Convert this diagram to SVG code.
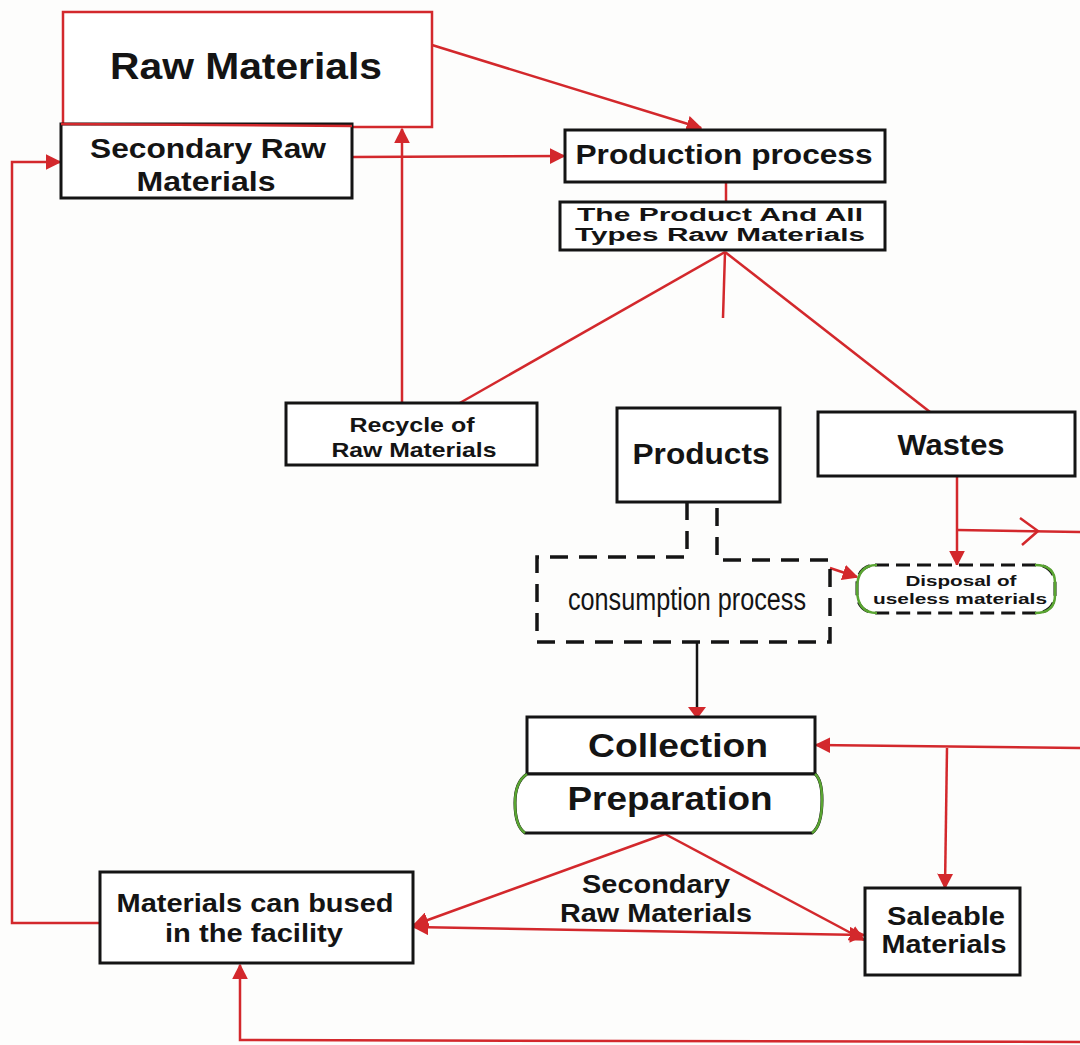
<svg xmlns="http://www.w3.org/2000/svg" width="1080" height="1045" viewBox="0 0 1080 1045">
<style>
.bg{fill:#fdfdfc}
.box{fill:#ffffff;stroke:#141414;stroke-width:3}
.rbox{fill:#ffffff;stroke:#d3282c;stroke-width:2.5}
.dash{fill:none;stroke:#141414;stroke-width:3.5;stroke-dasharray:18 11}
.t{font-family:"Liberation Sans",Arial,sans-serif;font-weight:bold;fill:#141414;text-anchor:middle}
.n{font-family:"Liberation Sans Narrow","Liberation Sans",Arial,sans-serif;font-weight:normal;fill:#141414;text-anchor:middle}
.c{fill:none;stroke:#d3282c;stroke-width:2.5}
.k{fill:none;stroke:#141414;stroke-width:2.5}
.g{fill:none;stroke:#5aa532;stroke-width:2.5}
</style>
<defs>
<marker id="ah" viewBox="0 0 10 10" refX="9" refY="5" markerWidth="16" markerHeight="16" markerUnits="userSpaceOnUse" orient="auto">
<path d="M0,0 L10,5 L0,10 Z" fill="#d3282c"/>
</marker>
</defs>
<rect class="bg" x="0" y="0" width="1080" height="1045"/>

<g id="connectors">
<line class="c" x1="432" y1="45" x2="701" y2="128" marker-end="url(#ah)"/>
<line class="c" x1="352" y1="157" x2="564" y2="156" marker-end="url(#ah)"/>
<line class="c" x1="726" y1="182" x2="726" y2="202"/>
<line class="c" x1="402" y1="402" x2="402" y2="129" marker-end="url(#ah)"/>
<line class="c" x1="725" y1="252" x2="458" y2="404" stroke-width="3"/>
<line class="c" x1="725" y1="252" x2="723" y2="318" stroke-width="3"/>
<line class="c" x1="725" y1="252" x2="930" y2="412" stroke-width="3"/>
<line class="c" x1="957" y1="476" x2="957" y2="565" marker-end="url(#ah)"/>
<line class="c" x1="957" y1="530" x2="1080" y2="532"/>
<polyline fill="none" stroke="#d3282c" stroke-width="2.5" points="1020,518 1038,531 1022,545"/>
<line class="c" x1="830" y1="568" x2="857" y2="577" marker-end="url(#ah)"/>
<line class="k" x1="697" y1="642" x2="697" y2="708"/>
<path d="M688,707 L706,707 L697,719 Z" fill="#d3282c"/>
<line class="c" x1="1080" y1="748" x2="816" y2="745" marker-end="url(#ah)"/>
<line class="c" x1="947" y1="748" x2="945" y2="888" marker-end="url(#ah)"/>
<line class="c" x1="665" y1="834" x2="414" y2="925" marker-end="url(#ah)"/>
<line class="c" x1="665" y1="834" x2="864" y2="940" marker-end="url(#ah)"/>
<line class="c" x1="640" y1="931" x2="414" y2="927" marker-end="url(#ah)"/>
<line class="c" x1="640" y1="931" x2="864" y2="935" marker-end="url(#ah)"/>
<polyline class="c" points="100,923 12,923 12,162 60,162" marker-end="url(#ah)"/>
<polyline class="c" points="1080,1042 240,1040 240,965" marker-end="url(#ah)"/>
</g>

<g id="raw-materials">
<rect class="rbox" x="63" y="12" width="369" height="115"/>
<text class="t" x="246" y="79" font-size="37" textLength="272" lengthAdjust="spacingAndGlyphs">Raw Materials</text>
</g>

<g id="secondary-raw-materials">
<rect class="box" x="61" y="124" width="291" height="74"/>
<line class="rbox" x1="61" y1="124" x2="352" y2="126"/>
<text class="t" x="208" y="158" font-size="28" textLength="236" lengthAdjust="spacingAndGlyphs">Secondary Raw</text>
<text class="t" x="206" y="191" font-size="28" textLength="139" lengthAdjust="spacingAndGlyphs">Materials</text>
</g>

<g id="production-process">
<rect class="box" x="565" y="130" width="320" height="52"/>
<text class="t" x="724" y="164" font-size="28" textLength="297" lengthAdjust="spacingAndGlyphs">Production process</text>
</g>

<g id="product-types">
<rect class="box" x="560" y="202" width="325" height="48"/>
<text class="t" x="720" y="221" font-size="18" textLength="286" lengthAdjust="spacingAndGlyphs">The Product And All</text>
<text class="t" x="720" y="241" font-size="18" textLength="290" lengthAdjust="spacingAndGlyphs">Types Raw Materials</text>
</g>

<g id="recycle">
<rect class="box" x="286" y="403" width="251" height="62"/>
<text class="t" x="412" y="432" font-size="21" textLength="125" lengthAdjust="spacingAndGlyphs">Recycle of</text>
<text class="t" x="414" y="457" font-size="21" textLength="165" lengthAdjust="spacingAndGlyphs">Raw Materials</text>
</g>

<g id="products">
<rect class="box" x="617" y="408" width="163" height="94"/>
<text class="t" x="701" y="464" font-size="30" textLength="137" lengthAdjust="spacingAndGlyphs">Products</text>
</g>

<g id="wastes">
<rect class="box" x="818" y="412" width="257" height="64"/>
<text class="t" x="951" y="455" font-size="30" textLength="107" lengthAdjust="spacingAndGlyphs">Wastes</text>
</g>

<g id="consumption">
<path class="dash" d="M687,502 L687,557 L537,557 L537,642 L830,642 L830,560 L717,560 L717,502"/>
<text class="n" x="687" y="610" font-size="31" textLength="238" lengthAdjust="spacingAndGlyphs">consumption process</text>
</g>

<g id="disposal">
<rect x="857" y="565" width="198" height="48" rx="18" fill="#ffffff" stroke="#141414" stroke-width="3" stroke-dasharray="14 7"/>
<path class="g" d="M1035,565 Q1055,565 1055,583 L1055,595 Q1055,613 1035,613"/>
<path class="g" d="M877,565 Q857,565 857,589 Q857,613 877,613"/>
<text class="t" x="961" y="586" font-size="15" textLength="111" lengthAdjust="spacingAndGlyphs">Disposal of</text>
<text class="t" x="960" y="604" font-size="15" textLength="174" lengthAdjust="spacingAndGlyphs">useless materials</text>
</g>

<g id="collection">
<rect class="box" x="527" y="717" width="288" height="57"/>
<text class="t" x="678" y="757" font-size="33" textLength="180" lengthAdjust="spacingAndGlyphs">Collection</text>
</g>

<g id="preparation">
<path d="M527,774 L815,774 Q822,780 822,800 Q822,826 812,833 L525,833 Q515,826 515,803 Q515,782 527,774 Z" fill="#ffffff" stroke="#141414" stroke-width="3"/>
<path class="g" d="M527,774 Q515,782 515,803 Q515,826 525,833"/>
<path class="g" d="M815,774 Q822,780 822,800 Q822,826 812,833"/>
<text class="t" x="670" y="810" font-size="33" textLength="205" lengthAdjust="spacingAndGlyphs">Preparation</text>
</g>

<g id="secondary-label">
<text class="t" x="656" y="893" font-size="25" textLength="148" lengthAdjust="spacingAndGlyphs">Secondary</text>
<text class="t" x="656" y="922" font-size="25" textLength="192" lengthAdjust="spacingAndGlyphs">Raw Materials</text>
</g>

<g id="materials-facility">
<rect class="box" x="100" y="872" width="313" height="91"/>
<text class="t" x="255" y="912" font-size="25" textLength="277" lengthAdjust="spacingAndGlyphs">Materials can bused</text>
<text class="t" x="254" y="942" font-size="25" textLength="178" lengthAdjust="spacingAndGlyphs">in the facility</text>
</g>

<g id="saleable">
<rect class="box" x="865" y="888" width="155" height="87"/>
<text class="t" x="946" y="925" font-size="26" textLength="118" lengthAdjust="spacingAndGlyphs">Saleable</text>
<text class="t" x="944" y="953" font-size="26" textLength="125" lengthAdjust="spacingAndGlyphs">Materials</text>
</g>
</svg>
